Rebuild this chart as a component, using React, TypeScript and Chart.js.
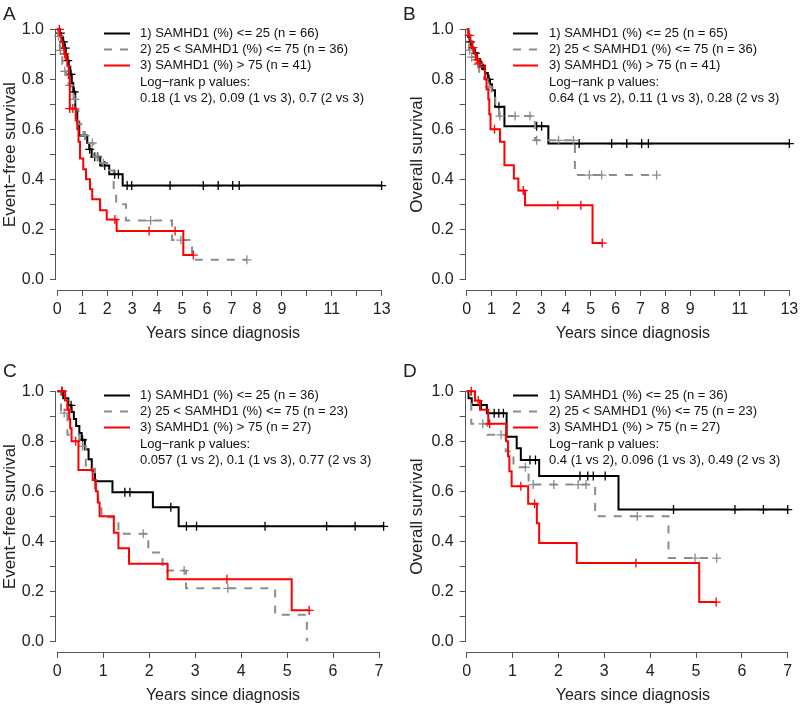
import React, { useEffect, useRef } from 'react';
import { Chart, registerables } from 'chart.js';

Chart.register(...registerables);

const FONT = "'Liberation Sans', Arial, Helvetica, sans-serif";

// ---------- tick values / labels ----------
const yTickValues = [0, 0.1, 0.2, 0.3, 0.4, 0.5, 0.6, 0.7, 0.8, 0.9, 1.0];
const yTickLabels = ['0.0', '', '0.2', '', '0.4', '', '0.6', '', '0.8', '', '1.0'];
const xTickValuesLong = [0, 1, 2, 3, 4, 5, 6, 7, 8, 9, 10, 11, 12, 13];
const xTickLabelsLong = ['0', '1', '2', '3', '4', '5', '6', '7', '8', '9', '', '11', '', '13'];
const xTickValuesShort = [0, 1, 2, 3, 4, 5, 6, 7];
const xTickLabelsShort = ['0', '1', '2', '3', '4', '5', '6', '7'];

// ---------- Panel A: event-free survival, full cohort ----------
const blackA_t = [0, 0.08, 0.15, 0.22, 0.28, 0.34, 0.40, 0.46, 0.52, 0.58, 0.64, 0.72, 0.80, 0.88, 1.20, 1.28, 1.38, 1.72, 2.08, 2.62];
const blackA_s = [1.0, 0.985, 0.97, 0.95, 0.925, 0.90, 0.875, 0.85, 0.82, 0.785, 0.75, 0.68, 0.63, 0.575, 0.545, 0.52, 0.49, 0.455, 0.42, 0.375];
const blackA_end = 13;
const blackA_cens = [0.12, 0.25, 0.32, 0.42, 0.55, 0.68, 1.1, 1.3, 1.5, 1.62, 1.9, 2.3, 2.45, 2.8, 2.98, 4.52, 5.85, 6.45, 7.03, 7.29, 13];

const grayA_t = [0, 0.03, 0.06, 0.10, 0.14, 0.20, 0.28, 0.36, 0.45, 0.55, 0.65, 0.75, 0.85, 1.05, 1.25, 1.45, 1.75, 2.00, 2.26, 2.36, 2.75, 4.60, 5.40];
const grayA_s = [1.0, 0.972, 0.944, 0.916, 0.888, 0.86, 0.832, 0.804, 0.776, 0.748, 0.72, 0.68, 0.62, 0.575, 0.545, 0.49, 0.465, 0.435, 0.36, 0.30, 0.235, 0.157, 0.078];
const grayA_end = 7.6;
const grayA_cens = [0.05, 0.12, 0.3, 0.5, 0.7, 1.1, 1.4, 1.6, 1.85, 3.74, 4.95, 7.6];

const redA_t = [0, 0.10, 0.16, 0.22, 0.28, 0.34, 0.40, 0.46, 0.50, 0.74, 0.80, 0.85, 0.91, 1.04, 1.15, 1.31, 1.40, 1.71, 1.98, 2.38, 5.05];
const redA_s = [1.0, 0.976, 0.951, 0.927, 0.902, 0.878, 0.854, 0.805, 0.683, 0.636, 0.60, 0.55, 0.483, 0.44, 0.40, 0.36, 0.32, 0.276, 0.239, 0.193, 0.097];
const redA_end = 5.45;
const redA_cens = [0.08, 0.3, 0.5, 0.62, 2.31, 3.68, 4.72, 5.45];

// ---------- Panel B: overall survival, full cohort ----------
const blackB_t = [0, 0.05, 0.12, 0.20, 0.30, 0.42, 0.54, 0.66, 0.74, 0.85, 0.94, 1.02, 1.14, 1.52, 3.29];
const blackB_s = [1.0, 0.97, 0.95, 0.925, 0.905, 0.88, 0.856, 0.84, 0.825, 0.80, 0.78, 0.756, 0.69, 0.612, 0.543];
const blackB_end = 13;
const blackB_cens = [0.15, 0.35, 0.6, 0.9, 1.3, 2.82, 3.02, 4.53, 5.84, 6.45, 7.05, 7.32, 13];

const grayB_t = [0, 0.04, 0.10, 0.20, 0.35, 0.50, 0.70, 0.85, 1.00, 1.15, 1.30, 2.75, 4.36];
const grayB_s = [1.0, 0.944, 0.917, 0.889, 0.86, 0.83, 0.80, 0.77, 0.74, 0.70, 0.653, 0.556, 0.417];
const grayB_end = 7.65;
const grayB_cens = [0.12, 0.2, 0.45, 0.9, 1.34, 1.95, 2.55, 2.82, 3.7, 4.3, 4.94, 5.44, 7.65];

const redB_t = [0, 0.08, 0.15, 0.22, 0.30, 0.38, 0.46, 0.54, 0.74, 0.80, 0.87, 0.91, 0.96, 1.34, 1.52, 1.90, 2.08, 2.35, 5.07];
const redB_s = [1.0, 0.976, 0.951, 0.927, 0.902, 0.878, 0.865, 0.85, 0.80, 0.76, 0.72, 0.66, 0.60, 0.55, 0.456, 0.403, 0.355, 0.296, 0.145];
const redB_end = 5.46;
const redB_cens = [0.1, 0.25, 0.42, 0.5, 1.12, 2.28, 3.67, 4.6, 5.46];

// ---------- Panel C: event-free survival, subgroup ----------
const blackC_t = [0, 0.13, 0.24, 0.31, 0.36, 0.41, 0.48, 0.53, 0.60, 0.68, 0.75, 0.82, 1.20, 2.08, 2.64];
const blackC_s = [1.0, 0.972, 0.944, 0.917, 0.889, 0.861, 0.833, 0.806, 0.768, 0.728, 0.683, 0.64, 0.596, 0.536, 0.46];
const blackC_end = 7.1;
const blackC_cens = [0.1, 0.3, 0.55, 1.47, 1.58, 2.47, 2.81, 3.03, 4.52, 5.86, 6.48, 7.1];

const grayC_t = [0, 0.08, 0.22, 0.48, 0.62, 0.82, 0.89, 0.96, 1.33, 1.98, 2.29, 2.80, 4.74, 5.43];
const grayC_s = [1.0, 0.913, 0.826, 0.78, 0.69, 0.605, 0.552, 0.496, 0.43, 0.355, 0.283, 0.212, 0.106, 0.0];
const grayC_end = 5.43;
const grayC_cens = [0.15, 0.55, 1.87, 2.76, 3.71];

const redC_t = [0, 0.17, 0.22, 0.26, 0.28, 0.31, 0.46, 0.77, 0.84, 0.88, 0.92, 1.23, 1.33, 1.56, 2.40, 5.10];
const redC_s = [1.0, 0.963, 0.926, 0.889, 0.852, 0.80, 0.685, 0.645, 0.60, 0.555, 0.50, 0.434, 0.372, 0.31, 0.248, 0.124];
const redC_end = 5.48;
const redC_cens = [0.1, 0.25, 0.4, 3.69, 5.48];

// ---------- Panel D: overall survival, subgroup ----------
const blackD_t = [0, 0.04, 0.11, 0.44, 0.87, 1.09, 1.18, 1.58, 3.31];
const blackD_s = [1.0, 0.972, 0.945, 0.912, 0.818, 0.772, 0.725, 0.661, 0.527];
const blackD_end = 7.0;
const blackD_cens = [0.32, 0.6, 0.7, 0.8, 1.38, 1.5, 2.47, 2.64, 2.76, 3.02, 4.51, 5.85, 6.47, 7.0];

const grayD_t = [0, 0.07, 0.10, 0.45, 0.85, 1.02, 1.35, 2.80, 4.40];
const grayD_s = [1.0, 0.957, 0.87, 0.826, 0.76, 0.696, 0.627, 0.50, 0.333];
const grayD_end = 5.45;
const grayD_cens = [0.35, 0.75, 1.28, 1.45, 1.9, 2.43, 2.6, 3.72, 4.98, 5.45];

const redD_t = [0, 0.18, 0.29, 0.47, 0.86, 0.90, 0.93, 0.98, 1.34, 1.53, 1.58, 2.40, 5.07];
const redD_s = [1.0, 0.963, 0.926, 0.87, 0.80, 0.74, 0.68, 0.62, 0.55, 0.472, 0.393, 0.313, 0.157];
const redD_end = 5.44;
const redD_cens = [0.1, 0.25, 0.5, 1.18, 1.48, 3.69, 5.44];

// ---------- legend texts ----------
const legendA = ['1) SAMHD1 (%) <= 25 (n = 66)', '2) 25 < SAMHD1 (%) <= 75 (n = 36)', '3) SAMHD1 (%) > 75 (n = 41)'];
const legendB = ['1) SAMHD1 (%) <= 25 (n = 65)', '2) 25 < SAMHD1 (%) <= 75 (n = 36)', '3) SAMHD1 (%) > 75 (n = 41)'];
const legendC = ['1) SAMHD1 (%) <= 25 (n = 36)', '2) 25 < SAMHD1 (%) <= 75 (n = 23)', '3) SAMHD1 (%) > 75 (n = 27)'];
const legendD = ['1) SAMHD1 (%) <= 25 (n = 36)', '2) 25 < SAMHD1 (%) <= 75 (n = 23)', '3) SAMHD1 (%) > 75 (n = 27)'];
const pTitle = 'Log\u2212rank p values:';
const pA = '0.18 (1 vs 2), 0.09 (1 vs 3), 0.7 (2 vs 3)';
const pB = '0.64 (1 vs 2), 0.11 (1 vs 3), 0.28 (2 vs 3)';
const pC = '0.057 (1 vs 2), 0.1 (1 vs 3), 0.77 (2 vs 3)';
const pD = '0.4 (1 vs 2), 0.096 (1 vs 3), 0.49 (2 vs 3)';
const xTitle = 'Years since diagnosis';
const yTitleEFS = 'Event\u2212free survival';
const yTitleOS = 'Overall survival';

// ---------- styles ----------
const seriesColors = ['#000000', '#8c8c8c', '#ff0000'];
const seriesDash = [[], [8, 8], []];
const seriesOrder = [2, 1, 0];

type Curve = { t: number[]; s: number[]; end: number; cens: number[] };

type PanelCfg = {
  letter: string;
  curves: Curve[];
  legend: string[];
  pvals: string;
  yTitle: string;
  xTicks: number[];
  xLabels: string[];
  left: number; top: number; w: number; h: number;
  t0: number; ppy: number; axisX: number; yOne: number; axisY: number; right: number;
  yTitlePad: number; xTitlePad: number;
  legLine: [number, number]; legText: number; legRows: number[];
  letterY: number;
};

const rowsTop = [33, 49, 65, 82, 98];
const rowsBottom = [41, 57, 73, 90, 106];

const panels: PanelCfg[] = [
  {
    letter: 'A',
    curves: [
      { t: blackA_t, s: blackA_s, end: blackA_end, cens: blackA_cens },
      { t: grayA_t, s: grayA_s, end: grayA_end, cens: grayA_cens },
      { t: redA_t, s: redA_s, end: redA_end, cens: redA_cens },
    ],
    legend: legendA, pvals: pA, yTitle: yTitleEFS,
    xTicks: xTickValuesLong, xLabels: xTickLabelsLong,
    left: 0, top: 0, w: 400, h: 354,
    t0: 57.3, ppy: 24.95, axisX: 56, yOne: 29.3, axisY: 290, right: 390,
    yTitlePad: 0, xTitlePad: 10.4,
    legLine: [104, 130], legText: 140, legRows: rowsTop, letterY: 20,
  },
  {
    letter: 'B',
    curves: [
      { t: blackB_t, s: blackB_s, end: blackB_end, cens: blackB_cens },
      { t: grayB_t, s: grayB_s, end: grayB_end, cens: grayB_cens },
      { t: redB_t, s: redB_s, end: redB_end, cens: redB_cens },
    ],
    legend: legendB, pvals: pB, yTitle: yTitleOS,
    xTicks: xTickValuesLong, xLabels: xTickLabelsLong,
    left: 400, top: 0, w: 420, h: 354,
    t0: 66.7, ppy: 24.82, axisX: 65.7, yOne: 29.3, axisY: 290, right: 400,
    yTitlePad: 7.5, xTitlePad: 10.4,
    legLine: [113, 138], legText: 149, legRows: rowsTop, letterY: 20,
  },
  {
    letter: 'C',
    curves: [
      { t: blackC_t, s: blackC_s, end: blackC_end, cens: blackC_cens },
      { t: grayC_t, s: grayC_s, end: grayC_end, cens: grayC_cens },
      { t: redC_t, s: redC_s, end: redC_end, cens: redC_cens },
    ],
    legend: legendC, pvals: pC, yTitle: yTitleEFS,
    xTicks: xTickValuesShort, xLabels: xTickLabelsShort,
    left: 0, top: 354, w: 400, h: 354,
    t0: 57.3, ppy: 45.96, axisX: 56, yOne: 37.3, axisY: 298, right: 390,
    yTitlePad: 0, xTitlePad: 2.4,
    legLine: [104, 130], legText: 140, legRows: rowsBottom, letterY: 23,
  },
  {
    letter: 'D',
    curves: [
      { t: blackD_t, s: blackD_s, end: blackD_end, cens: blackD_cens },
      { t: grayD_t, s: grayD_s, end: grayD_end, cens: grayD_cens },
      { t: redD_t, s: redD_s, end: redD_end, cens: redD_cens },
    ],
    legend: legendD, pvals: pD, yTitle: yTitleOS,
    xTicks: xTickValuesShort, xLabels: xTickLabelsShort,
    left: 400, top: 354, w: 420, h: 354,
    t0: 66.7, ppy: 45.86, axisX: 65.7, yOne: 37.3, axisY: 298, right: 400,
    yTitlePad: 7.5, xTitlePad: 2.4,
    legLine: [113, 138], legText: 149, legRows: rowsBottom, letterY: 23,
  },
];

function survAt(c: Curve, x: number): number {
  let v = c.s[0];
  for (let i = 0; i < c.t.length; i++) if (c.t[i] <= x) v = c.s[i];
  return v;
}

function Panel({ cfg }: { cfg: PanelCfg }) {
  const ref = useRef<HTMLCanvasElement | null>(null);
  useEffect(() => {
    const canvas = ref.current;
    if (!canvas) return;
    const unit = 250; // px per survival unit (layout)
    const xMin = (cfg.axisX - cfg.t0) / cfg.ppy;
    const xMax = (cfg.right - cfg.t0) / cfg.ppy;
    const yMin = -(cfg.axisY - (cfg.yOne + unit)) / unit;
    const yMax = 1.04;
    const padTop = cfg.yOne - (yMax - 1) * unit;

    const datasets: any[] = [];
    cfg.curves.forEach((c, k) => {
      const pts = c.t.map((t, i) => ({ x: t, y: c.s[i] }));
      pts.push({ x: c.end, y: c.s[c.s.length - 1] });
      datasets.push({
        type: 'line',
        data: pts,
        stepped: 'before',
        borderColor: seriesColors[k],
        borderWidth: 2,
        borderDash: seriesDash[k],
        pointRadius: 0,
        fill: false,
        clip: false,
        order: seriesOrder[k],
      });
      datasets.push({
        type: 'line',
        data: c.cens.map((x) => ({ x, y: survAt(c, x) })),
        showLine: false,
        pointStyle: 'cross',
        pointRadius: 4.5,
        pointBorderWidth: 1.3,
        borderColor: seriesColors[k],
        backgroundColor: seriesColors[k],
        clip: false,
        order: seriesOrder[k],
      });
    });

    const decor = {
      id: 'decor' + cfg.letter,
      beforeDatasetsDraw(chart: any) {
        const ctx = chart.ctx;
        const xs = chart.scales.x;
        const ys = chart.scales.y;
        const a = chart.chartArea;
        ctx.save();
        ctx.strokeStyle = '#555';
        ctx.lineWidth = 1;
        ctx.beginPath();
        const lx = Math.round(a.left) - 0.5;
        ctx.moveTo(lx, ys.getPixelForValue(yTickValues[0]));
        ctx.lineTo(lx, ys.getPixelForValue(yTickValues[yTickValues.length - 1]));
        const by = Math.round(a.bottom) + 0.5;
        ctx.moveTo(xs.getPixelForValue(cfg.xTicks[0]), by);
        ctx.lineTo(xs.getPixelForValue(cfg.xTicks[cfg.xTicks.length - 1]), by);
        ctx.stroke();
        ctx.restore();
      },
      afterDraw(chart: any) {
        const ctx = chart.ctx;
        ctx.save();
        // panel letter
        ctx.fillStyle = '#222';
        ctx.font = `19px ${FONT}`;
        ctx.textAlign = 'left';
        ctx.textBaseline = 'alphabetic';
        ctx.fillText(cfg.letter, 3, cfg.letterY);
        // legend
        ctx.font = `13px ${FONT}`;
        ctx.textBaseline = 'middle';
        cfg.legend.forEach((txt, k) => {
          const y = cfg.legRows[k];
          ctx.strokeStyle = seriesColors[k];
          ctx.lineWidth = 2;
          ctx.setLineDash(seriesDash[k]);
          ctx.beginPath();
          ctx.moveTo(cfg.legLine[0], y + 0.5);
          ctx.lineTo(cfg.legLine[1], y + 0.5);
          ctx.stroke();
          ctx.setLineDash([]);
          ctx.fillStyle = '#111';
          ctx.fillText(txt, cfg.legText, y);
        });
        ctx.fillText(pTitle, cfg.legText, cfg.legRows[3]);
        ctx.fillText(cfg.pvals, cfg.legText, cfg.legRows[4]);
        ctx.restore();
      },
    };

    const chart = new Chart(canvas, {
      type: 'line',
      data: { datasets },
      options: {
        animation: false,
        responsive: false,
        devicePixelRatio: 1,
        events: [],
        layout: { padding: { left: 0, top: padTop, right: cfg.w - cfg.right, bottom: 0 } },
        plugins: { legend: { display: false }, tooltip: { enabled: false }, title: { display: false } },
        scales: {
          x: {
            type: 'linear',
            min: xMin,
            max: xMax,
            bounds: 'data',
            afterBuildTicks: (axis: any) => {
              axis.ticks = cfg.xTicks.map((v) => ({ value: v }));
            },
            afterFit: (axis: any) => {
              axis.height = cfg.h - cfg.axisY;
            },
            ticks: {
              autoSkip: false,
              maxRotation: 0,
              minRotation: 0,
              padding: 4,
              color: '#222',
              font: { family: FONT, size: 16 },
              callback: (_v: any, i: number) => cfg.xLabels[i],
            },
            grid: { drawOnChartArea: false, drawTicks: true, tickLength: 6, color: '#555', lineWidth: 1 },
            border: { display: false },
            title: {
              display: true,
              text: xTitle,
              color: '#222',
              font: { family: FONT, size: 16 },
              padding: { top: 0, bottom: cfg.xTitlePad },
            },
          },
          y: {
            type: 'linear',
            min: yMin,
            max: yMax,
            bounds: 'data',
            afterBuildTicks: (axis: any) => {
              axis.ticks = yTickValues.map((v) => ({ value: v }));
            },
            afterFit: (axis: any) => {
              axis.width = cfg.axisX;
            },
            ticks: {
              autoSkip: false,
              padding: 6,
              color: '#222',
              font: { family: FONT, size: 16 },
              callback: (_v: any, i: number) => yTickLabels[i],
            },
            grid: { drawOnChartArea: false, drawTicks: true, tickLength: 6, color: '#555', lineWidth: 1 },
            border: { display: false },
            title: {
              display: true,
              text: cfg.yTitle,
              color: '#222',
              font: { family: FONT, size: 17 },
              padding: { top: cfg.yTitlePad, bottom: 0 },
            },
          },
        },
      },
      plugins: [decor],
    } as any);
    return () => chart.destroy();
  }, [cfg]);

  return (
    <canvas
      ref={ref}
      width={cfg.w}
      height={cfg.h}
      style={{ position: 'absolute', left: cfg.left, top: cfg.top, width: cfg.w, height: cfg.h }}
    />
  );
}

export default function App() {
  return (
    <div
      style={{
        position: 'absolute',
        left: 0,
        top: 0,
        width: 800,
        height: 708,
        overflow: 'hidden',
        background: '#ffffff',
      }}
    >
      {panels.map((p) => (
        <Panel key={p.letter} cfg={p} />
      ))}
    </div>
  );
}
